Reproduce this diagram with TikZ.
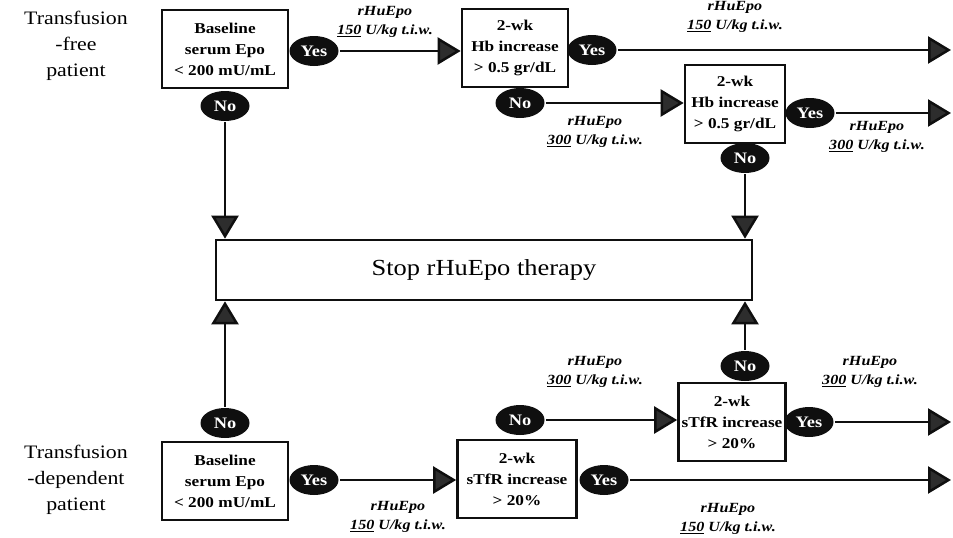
\documentclass[tikz,border=0pt]{standalone}
\usepackage{fontspec}
\setmainfont{Liberation Serif}
\newfontfamily\figfont{Liberation Serif}[FakeStretch=1.15]
\usetikzlibrary{arrows.meta, shapes.geometric, calc}
\definecolor{figK}{RGB}{15,15,15}
\definecolor{figT}{RGB}{45,45,45}

\begin{document}
\begin{tikzpicture}[x=1pt, y=-1pt, line width=2.5pt,
  every node/.style={font=\figfont},
  test/.style={draw=figK, line width=2.7pt, fill=white, align=center, inner sep=0pt,
    minimum height=78pt, font=\figfont\bfseries\fontsize{15}{21}\selectfont},
  ans/.style={ellipse, fill=figK, text=white, inner sep=0pt, minimum width=49pt,
    minimum height=30pt, font=\figfont\bfseries\fontsize{16}{16}\selectfont},
  flow/.style={figK, -{Triangle[length=23pt, width=27pt, fill=figT]}},
  dose/.style={align=center, font=\figfont\bfseries\itshape\fontsize{14}{19}\selectfont},
  side/.style={align=center, font=\figfont\fontsize{19}{26}\selectfont}]
\useasboundingbox (0,0) rectangle (953,538);
% patient groups
\node[side] (tfree) at (76,46) {Transfusion\\-free\\patient};
\node[side] (tdep) at (76,480) {Transfusion\\-dependent\\patient};
% transfusion-free branch
\node[test, minimum width=126pt] (epo1) at (225,49) {Baseline\\serum Epo\\< 200 mU/mL};
\node[ans] (yes1) at (314,51) {Yes};
\node[ans] (no1) at (225,106) {No};
\node[test, minimum width=106pt] (hb1) at (515,48) {2-wk\\Hb increase\\> 0.5 gr/dL};
\node[ans] (yes2) at (592,50) {Yes};
\node[ans] (no2) at (520,103) {No};
\node[test, minimum width=100pt] (hb2) at (735,104) {2-wk\\Hb increase\\> 0.5 gr/dL};
\node[ans] (no3) at (745,158) {No};
\node[ans] (yes3) at (810,113) {Yes};
\coordinate (out1) at (951,50);
\coordinate (out2) at (951,113);
% stop box
\node[draw=figK, line width=2.7pt, minimum width=536pt, minimum height=60pt,
  font=\figfont\fontsize{23}{23}\selectfont] (stop) at (484,270) {Stop rHuEpo therapy};
% transfusion-dependent branch
\node[test, minimum width=126pt] (epo2) at (225,481) {Baseline\\serum Epo\\< 200 mU/mL};
\node[ans] (no4) at (225,423) {No};
\node[ans] (yes4) at (314,480) {Yes};
\node[test, minimum width=119pt] (tfr1) at (517,479) {2-wk\\sTfR increase\\> 20\%};
\node[ans] (no5) at (520,420) {No};
\node[ans] (yes5) at (604,480) {Yes};
\node[test, minimum width=107pt] (tfr2) at (732,422) {2-wk\\sTfR increase\\> 20\%};
\node[ans] (no6) at (745,366) {No};
\node[ans] (yes6) at (809,422) {Yes};
\coordinate (out3) at (951,422);
\coordinate (out4) at (951,480);
% arrows
\draw[flow] (yes1) -- (yes1 -| hb1.west);
\draw[flow] (yes2) -- (out1);
\draw[flow] (no2) -- (no2 -| hb2.west);
\draw[flow] (yes3) -- (out2);
\draw[flow] (no1) -- (no1 |- stop.north);
\draw[flow] (no3) -- (no3 |- stop.north);
\draw[flow] (no4) -- (no4 |- stop.south);
\draw[flow] (no6) -- (no6 |- stop.south);
\draw[flow] (yes4) -- (yes4 -| tfr1.west);
\draw[flow] (no5) -- (no5 -| tfr2.west);
\draw[flow] (yes5) -- (out4);
\draw[flow] (yes6) -- (out3);
% doses
\node[dose] (d1) at (385,22) {rHuEpo\\\underline{150} U/kg t.i.w.};
\node[dose] (d2) at (735,17) {rHuEpo\\\underline{150} U/kg t.i.w.};
\node[dose] (d3) at (595,132) {rHuEpo\\\underline{300} U/kg t.i.w.};
\node[dose] (d4) at (877,137) {rHuEpo\\\underline{300} U/kg t.i.w.};
\node[dose] (d5) at (398,517) {rHuEpo\\\underline{150} U/kg t.i.w.};
\node[dose] (d6) at (595,372) {rHuEpo\\\underline{300} U/kg t.i.w.};
\node[dose] (d7) at (870,372) {rHuEpo\\\underline{300} U/kg t.i.w.};
\node[dose] (d8) at (728,519) {rHuEpo\\\underline{150} U/kg t.i.w.};
\end{tikzpicture}
\end{document}
